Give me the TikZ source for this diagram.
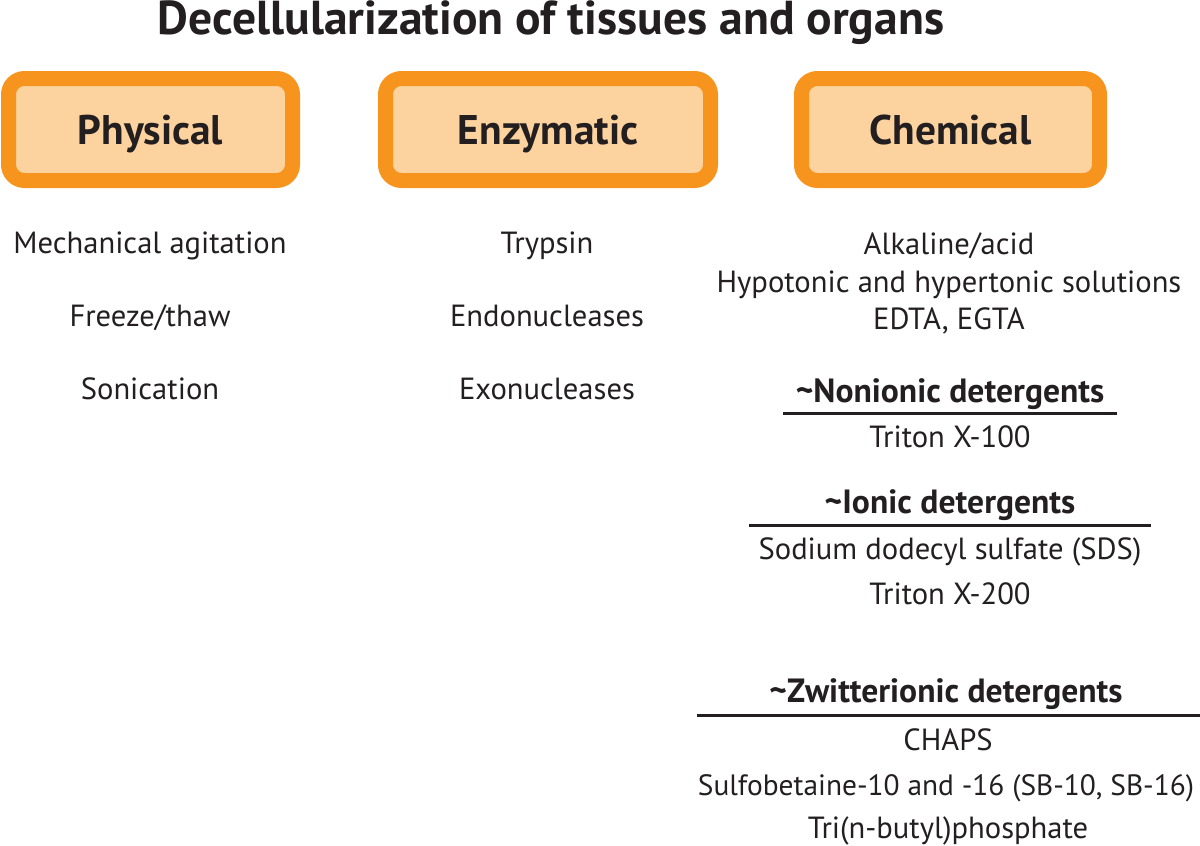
\documentclass[tikz,border=0pt]{standalone}
\usepackage{fontspec}
\setmainfont{PT Sans}
\usepackage{xcolor}
\usepackage{tikz}
\usetikzlibrary{positioning}
\definecolor{orangeline}{RGB}{247,148,30}
\definecolor{peach}{RGB}{252,210,158}
\definecolor{ink}{RGB}{35,31,32}
\tikzstyle{titre} = [anchor=base, inner sep=0pt, text=ink, font=\fontsize{23.8}{27}\selectfont\bfseries]
\tikzstyle{cat} = [rectangle, rounded corners=8pt, draw=orangeline, fill=peach, line width=7.5pt, minimum height=51pt, text height=14.5pt, text depth=0pt, text centered, text=ink, font=\fontsize{20.7}{24}\selectfont\bfseries]
\tikzstyle{item} = [anchor=base, inner sep=0pt, text=ink, font=\fontsize{15.3}{18}\selectfont]
\tikzstyle{sub} = [anchor=base, inner sep=0pt, text=ink, font=\fontsize{16.8}{20}\selectfont\bfseries]
\tikzstyle{rule} = [line width=1.5pt, draw=ink]

\begin{document}
\begin{tikzpicture}[x=0.5pt, y=-0.5pt]
	\useasboundingbox (0,0) rectangle (1200,846);
	\node (title) [titre] at (551,34) {Decellularization of tissues and organs};
	\node (phys) [cat, minimum width=142pt] at (150.5,129.5) {Physical};
	\node (enz) [cat, minimum width=162.5pt] at (548,129.5) {Enzymatic};
	\node (chem) [cat, minimum width=149pt] at (950.5,129.5) {Chemical};

	% physical
	\node (phy1) [item] at (150,253) {Mechanical agitation};
	\node (phy2) [item] at (150,326) {Freeze/thaw};
	\node (phy3) [item] at (150,399) {Sonication};

	% enzymatic
	\node (enz1) [item] at (547,253) {Trypsin};
	\node (enz2) [item] at (547,326) {Endonucleases};
	\node (enz3) [item] at (547,399) {Exonucleases};

	% chemical
	\node (che1) [item] at (949,254) {Alkaline/acid};
	\node (che2) [item] at (949,292) {Hypotonic and hypertonic solutions};
	\node (che3) [item] at (949,329) {EDTA, EGTA};

	\node (non) [sub] at (950,402) {\textasciitilde Nonionic detergents};
	\coordinate (nonL) at (783,413);
	\coordinate (nonR) at (1117,413);
	\node (non1) [item] at (950,447) {Triton X-100};

	\node (ion) [sub] at (950,513) {\textasciitilde Ionic detergents};
	\coordinate (ionL) at (749,525);
	\coordinate (ionR) at (1151,525);
	\node (ion1) [item] at (950,559) {Sodium dodecyl sulfate (SDS)};
	\node (ion2) [item] at (950,604) {Triton X-200};

	\node (zwi) [sub] at (946,702) {\textasciitilde Zwitterionic detergents};
	\coordinate (zwiL) at (697,715);
	\coordinate (zwiR) at (1200,715);
	\node (zwi1) [item] at (948,750) {CHAPS};
	\node (zwi2) [item, font=\fontsize{14.7}{18}\selectfont] at (946,795) {Sulfobetaine-10 and -16 (SB-10, SB-16)};
	\node (zwi3) [item] at (948,838) {Tri(n-butyl)phosphate};

	\draw [rule] (nonL) -- (nonR);
	\draw [rule] (ionL) -- (ionR);
	\draw [rule] (zwiL) -- (zwiR);
\end{tikzpicture}
\end{document}
